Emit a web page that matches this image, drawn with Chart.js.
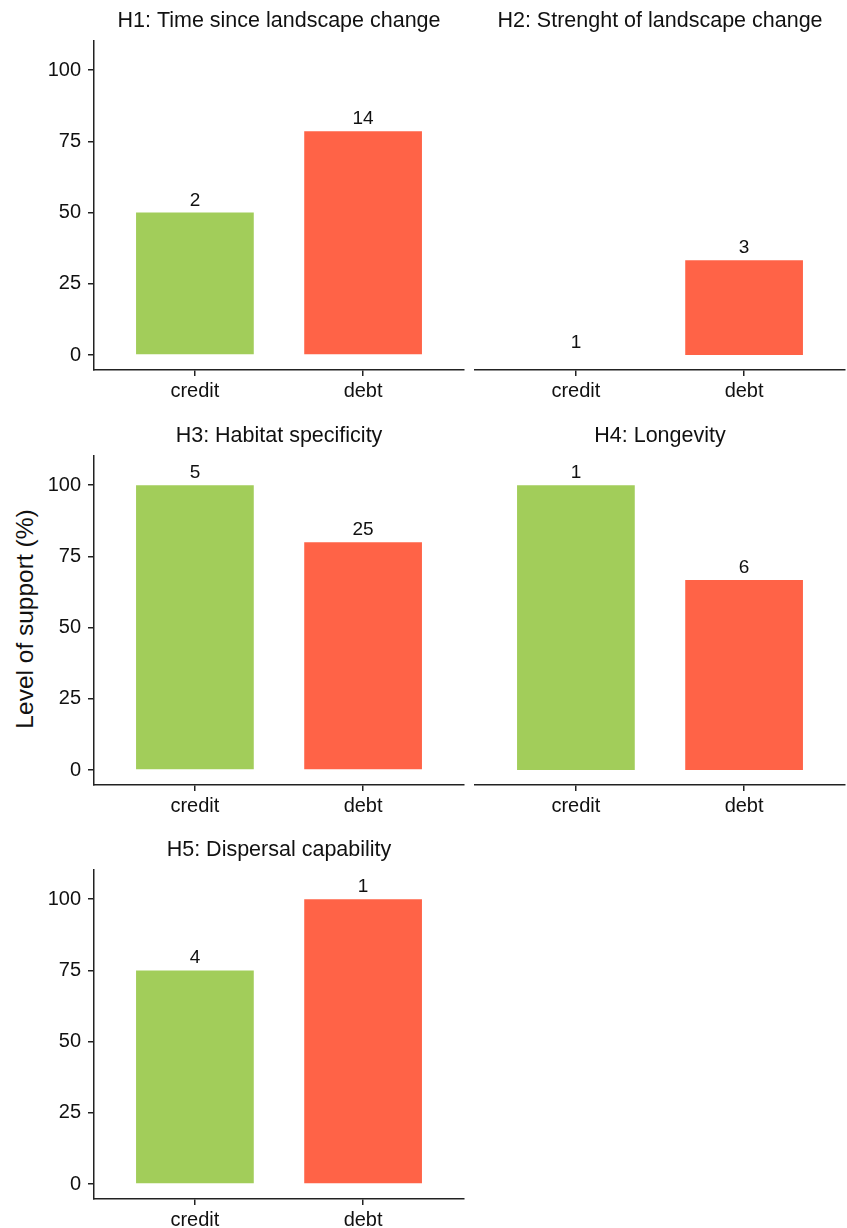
<!DOCTYPE html>
<html>
<head>
<meta charset="utf-8">
<script src="https://cdn.jsdelivr.net/npm/chart.js@4.4.1/dist/chart.umd.min.js"></script>
<style>
  body { margin: 0; background: #fff; }
  #wrap { position: relative; width: 847px; height: 1228px; overflow: hidden; }
  #wrap canvas { position: absolute; }
  #ylab {
    position: absolute; left: 25px; top: 619px;
    transform: translate(-50%, -50%) rotate(-90deg);
    font: 24.5px "Liberation Sans", Arial, sans-serif; color: #111; white-space: nowrap;
  }
</style>
</head>
<body>
<div id="wrap">
  <div id="ylab">Level of support (%)</div>
</div>
<script>
const categories = ['credit', 'debt'];
const panelTitles = [
  'H1: Time since landscape change',
  'H2: Strenght of landscape change',
  'H3: Habitat specificity',
  'H4: Longevity',
  'H5: Dispersal capability'
];
const creditSupport = [50, 0, 100, 100, 75];
const debtSupport = [78.6, 33.3, 80, 66.7, 100];
const creditCounts = [2, 1, 5, 1, 4];
const debtCounts = [14, 3, 25, 6, 1];
const yTicks = [0, 25, 50, 75, 100];

const FONT = '"Liberation Sans", Arial, sans-serif';
const ink = '#111';

// count labels above each bar
const countLabels = {
  id: 'countLabels',
  afterDatasetsDraw(chart, args, opts) {
    const ctx = chart.ctx;
    const meta = chart.getDatasetMeta(0);
    ctx.save();
    ctx.font = '19px ' + FONT;
    ctx.fillStyle = ink;
    ctx.textAlign = 'center';
    ctx.textBaseline = 'alphabetic';
    meta.data.forEach((bar, i) => {
      ctx.fillText(String(opts.counts[i]), bar.x, bar.y - 7);
    });
    ctx.restore();
  }
};

const wrap = document.getElementById('wrap');

panelTitles.forEach((title, i) => {
  const row = Math.floor(i / 2);
  const col = i % 2;
  const canvas = document.createElement('canvas');
  const w = col === 0 ? 470 : 377;
  const h = 414;
  canvas.width = w;
  canvas.height = h;
  canvas.style.left = (col === 0 ? 0 : 470) + 'px';
  canvas.style.top = (row * 414.5) + 'px';
  canvas.style.width = w + 'px';
  canvas.style.height = h + 'px';
  wrap.appendChild(canvas);

  const ctx = canvas.getContext('2d');
  new Chart(ctx, {
    type: 'bar',
    data: {
      datasets: [{
        data: [{x: 1, y: creditSupport[i]}, {x: 2, y: debtSupport[i]}],
        backgroundColor: ['#A2CD5A', '#FF6347'],
        borderWidth: 0,
        categoryPercentage: 0.7,
        barPercentage: 1
      }]
    },
    options: {
      responsive: false,
      animation: false,
      layout: {
        padding: col === 0 ? {left: 0, right: 6, top: 0, bottom: 0} : {left: 5, right: 2, top: 0, bottom: 0}
      },
      plugins: {
        legend: { display: false },
        tooltip: { enabled: false },
        title: {
          display: true,
          text: title,
          fullSize: false,
          color: ink,
          font: { family: FONT, size: 21.5, weight: 'normal', lineHeight: 1 },
          padding: { top: 10, bottom: 9.5 }
        },
        countLabels: { counts: [creditCounts[i], debtCounts[i]] }
      },
      scales: {
        x: {
          type: 'linear',
          min: 0.4,
          max: 2.6,
          offset: false,
          afterBuildTicks: (scale) => { scale.ticks = [{value: 1}, {value: 2}]; },
          afterFit: (scale) => { scale.height = 44; },
          ticks: {
            color: ink,
            font: { family: FONT, size: 20 },
            padding: 3,
            callback: (v) => categories[v - 1]
          },
          grid: { offset: false, drawOnChartArea: false, tickLength: 6, color: '#222', lineWidth: 1.5 },
          border: { display: true, color: '#222', width: 1.5 }
        },
        y: {
          display: col === 0,
          min: -5.25,
          max: 110.25,
          afterBuildTicks: (scale) => { scale.ticks = yTicks.map(v => ({value: v})); },
          afterFit: (scale) => { scale.width = col === 0 ? 94 : 0; },
          ticks: {
            color: ink,
            font: { family: FONT, size: 20 },
            padding: 7
          },
          grid: { drawOnChartArea: false, tickLength: 6, color: '#222', lineWidth: 1.5 },
          border: { display: true, color: '#222', width: 1.5 }
        }
      }
    },
    plugins: [countLabels]
  });
});
</script>
</body>
</html>
